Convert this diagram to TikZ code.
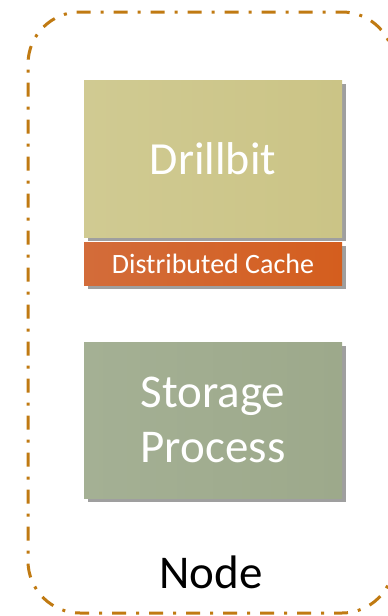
\documentclass[tikz,border=0pt]{standalone}
\usepackage{fontspec}
\setmainfont{Carlito}
\usetikzlibrary{shadows}
\definecolor{frame}{HTML}{C07A12}
\definecolor{drillA}{HTML}{D0CA92}
\definecolor{drillB}{HTML}{CBC486}
\definecolor{cacheA}{HTML}{D36C3A}
\definecolor{cacheB}{HTML}{D45E1E}
\definecolor{storA}{HTML}{A4B094}
\definecolor{storB}{HTML}{9DA98B}
\tikzset{
  box/.style={draw=none, minimum width=258pt, inner sep=0pt, text=white, align=center,
    drop shadow={shadow xshift=3.5pt, shadow yshift=-3.5pt, opacity=0.5, fill=black!75}},
}
\begin{document}
\begin{tikzpicture}[x=1pt,y=-1pt]
\useasboundingbox (0,0) rectangle (388,616);
\clip (0,0) rectangle (388,616);
\draw[frame, line width=3pt, dash pattern=on 14pt off 10pt on 3pt off 10pt]
  (394,64) arc[start angle=0, end angle=-90, radius=52] -- (80,12)
  arc[start angle=-90, end angle=-180, radius=52] -- (28,561)
  arc[start angle=180, end angle=90, radius=52] -- (342,613)
  arc[start angle=90, end angle=0, radius=52];
\node[box, left color=drillA, right color=drillB, minimum height=157pt, font=\fontsize{46}{50}\selectfont] (drill) at (213,158.5) {Drillbit};
\node[box, left color=cacheA, right color=cacheB, minimum height=43pt, font=\fontsize{28}{30}\selectfont] (cache) at (213,263.5) {Distributed Cache};
\node[box, left color=storA, right color=storB, minimum height=156pt, font=\fontsize{47}{55}\selectfont] (stor) at (213,420) {Storage\\Process};
\node[font=\fontsize{47}{50}\selectfont, text=black] (nodelbl) at (211,572) {Node};
\end{tikzpicture}
\end{document}
